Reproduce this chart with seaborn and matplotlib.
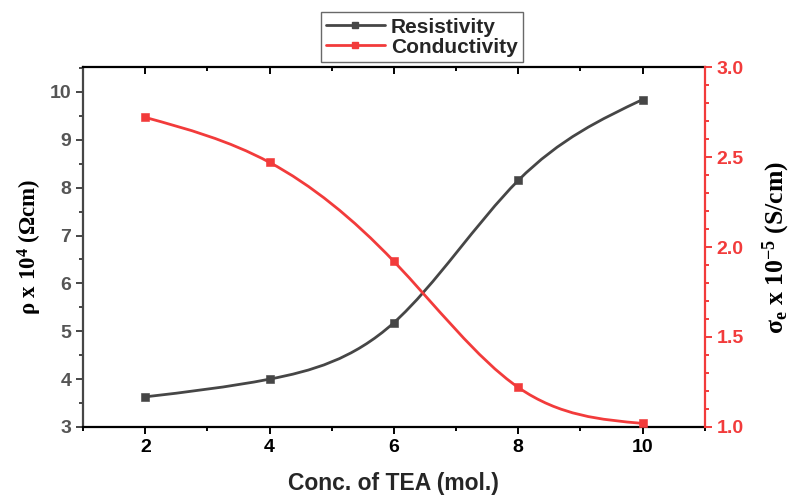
import numpy as np
import matplotlib
matplotlib.use("Agg")
import matplotlib.pyplot as plt
import seaborn as sns
from matplotlib.path import Path
from matplotlib.patches import PathPatch
from matplotlib.lines import Line2D
from matplotlib.ticker import MultipleLocator, FormatStrFormatter

# data
conc = [2, 4, 6, 8, 10]
resistivity = [3.63, 4.00, 5.18, 8.15, 9.84]
conductivity = [2.72, 2.47, 1.92, 1.22, 1.02]

BLACK = "#464646"
RED = "#f23b3b"

sns.set_style("ticks")
plt.rcParams["font.family"] = ["Liberation Sans", "DejaVu Sans"]
plt.rcParams["mathtext.fontset"] = "custom"
plt.rcParams["mathtext.rm"] = "Liberation Serif:bold"
plt.rcParams["mathtext.it"] = "Liberation Serif:bold"
plt.rcParams["mathtext.bf"] = "Liberation Serif:bold"


def smooth_patch(x, y, color):
    # natural cubic spline drawn as bezier segments (drawing style only)
    x = np.asarray(x, float)
    y = np.asarray(y, float)
    n = len(x)
    h = x[1] - x[0]
    A = np.zeros((n, n))
    b = np.zeros(n)
    A[0, 0], A[0, 1] = 2, 1
    b[0] = 3 * (y[1] - y[0]) / h
    A[-1, -2], A[-1, -1] = 1, 2
    b[-1] = 3 * (y[-1] - y[-2]) / h
    for i in range(1, n - 1):
        A[i, i - 1], A[i, i], A[i, i + 1] = 1, 4, 1
        b[i] = 3 * (y[i + 1] - y[i - 1]) / h
    m = np.linalg.solve(A, b)
    verts = [(x[0], y[0])]
    codes = [Path.MOVETO]
    for i in range(n - 1):
        verts += [(x[i] + h / 3, y[i] + m[i] * h / 3),
                  (x[i + 1] - h / 3, y[i + 1] - m[i + 1] * h / 3),
                  (x[i + 1], y[i + 1])]
        codes += [Path.CURVE4] * 3
    return PathPatch(Path(verts, codes), facecolor="none", edgecolor=color,
                     lw=2.0, capstyle="round", joinstyle="round")


fig = plt.figure(figsize=(7.99, 4.99), dpi=100)
ax = fig.add_axes([0.104, 0.1443, 0.778, 0.7214])
ax2 = ax.twinx()

ax.add_patch(smooth_patch(conc, resistivity, BLACK))
sns.scatterplot(x=conc, y=resistivity, ax=ax, marker="s", s=28, color=BLACK,
                edgecolor=BLACK, zorder=3)
ax2.add_patch(smooth_patch(conc, conductivity, RED))
sns.scatterplot(x=conc, y=conductivity, ax=ax2, marker="s", s=28, color=RED,
                edgecolor=RED, zorder=3)

ax.set_xlim(1, 11)
ax.set_ylim(3, 10.52)
ax2.set_ylim(1.0, 3.0)

ax.xaxis.set_major_locator(MultipleLocator(2))
ax.xaxis.set_minor_locator(MultipleLocator(1))
ax.yaxis.set_major_locator(MultipleLocator(1))
ax.yaxis.set_minor_locator(MultipleLocator(0.5))
ax2.yaxis.set_major_locator(MultipleLocator(0.5))
ax2.yaxis.set_minor_locator(MultipleLocator(0.1))
ax2.yaxis.set_major_formatter(FormatStrFormatter("%.1f"))

for sp in ["top", "bottom"]:
    ax.spines[sp].set_color("black")
    ax.spines[sp].set_linewidth(1.6)
ax.spines["left"].set_color(BLACK)
ax.spines["left"].set_linewidth(1.6)
ax.spines["right"].set_visible(False)
for sp in ["top", "bottom", "left"]:
    ax2.spines[sp].set_visible(False)
ax2.spines["right"].set_color(RED)
ax2.spines["right"].set_linewidth(1.6)

ax.tick_params(axis="x", which="both", direction="out", top=True, labeltop=False,
               width=1.4, colors="black", labelsize=14)
ax.tick_params(axis="x", which="major", length=5)
ax.tick_params(axis="x", which="minor", length=3)
ax.tick_params(axis="y", which="both", direction="out", width=1.4, colors=BLACK,
               labelcolor="#555555", labelsize=14)
ax.tick_params(axis="y", which="major", length=5)
ax.tick_params(axis="y", which="minor", length=3)
ax2.tick_params(axis="y", which="both", direction="out", width=1.4, colors=RED,
                labelsize=14)
ax2.tick_params(axis="y", which="major", length=5)
ax2.tick_params(axis="y", which="minor", length=3)
for lab in ax.get_xticklabels() + ax.get_yticklabels() + ax2.get_yticklabels():
    lab.set_fontweight("bold")
# top ticks point inward
for t in ax.xaxis.get_major_ticks() + ax.xaxis.get_minor_ticks():
    t.tick2line.set_marker(3)

ax.set_xlabel("Conc. of TEA (mol.)", fontsize=16.5, fontweight="bold", labelpad=12)
ax.set_ylabel(r"ρ x 10$^{4}$ (Ωcm)", fontsize=16.5, family="Liberation Serif",
              fontweight="bold", color="black", labelpad=4)
ax2.set_ylabel(r"σ$_{\mathrm{e}}$ x 10$^{-5}$ (S/cm)", fontsize=18.5,
               family="Liberation Serif", fontweight="bold", color="black",
               labelpad=12)

handles = [Line2D([], [], color=BLACK, lw=2, marker="s", ms=4.5),
           Line2D([], [], color=RED, lw=2, marker="s", ms=4.5)]
leg = fig.legend(handles, ["Resistivity", "Conductivity"], loc="lower center",
                 bbox_to_anchor=(0.528, 0.872), frameon=True, fancybox=False,
                 handlelength=2.8, handletextpad=0.3, borderpad=0.25,
                 borderaxespad=0.1, labelspacing=0.05,
                 prop={"weight": "bold", "size": 15})
leg.get_frame().set_edgecolor("#444444")
leg.get_frame().set_linewidth(1.0)

fig.savefig("out.png", dpi=100)
